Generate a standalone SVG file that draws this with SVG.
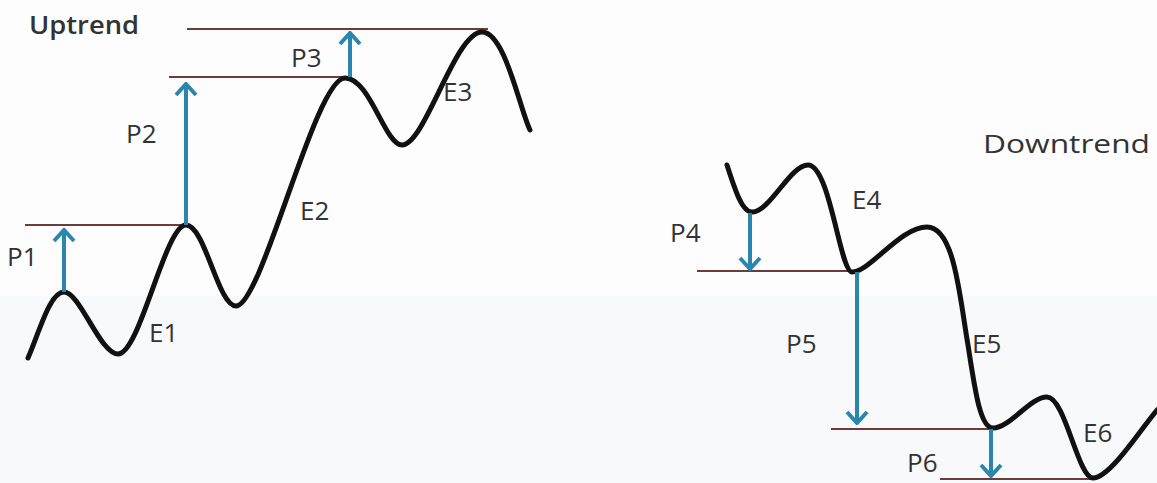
<svg xmlns="http://www.w3.org/2000/svg" width="1157" height="483" viewBox="0 0 1157 483">
<style>
.curve{fill:none;stroke:#111;stroke-width:5;stroke-linecap:round;stroke-linejoin:round}
.level{stroke:#6e3a3a;stroke-width:2}
.arrow{stroke:#2a86ad;stroke-width:4;fill:none}
.lbl{font-family:"Open Sans","Liberation Sans",sans-serif;font-size:26px;fill:#333}
.head{font-family:"Open Sans","Liberation Sans",sans-serif;font-size:26px;fill:#333}
</style>
<defs>
<marker id="chev" markerUnits="userSpaceOnUse" viewBox="-14 -12 16 24" refX="0" refY="0" markerWidth="16" markerHeight="24" orient="auto">
<path d="M-11,-10 L0,0 L-11,10" fill="none" stroke="#2a86ad" stroke-width="4" stroke-linejoin="miter"/>
</marker>
</defs>
<rect x="0" y="0" width="1157" height="483" fill="#fdfdfd"/>
<rect x="0" y="296" width="1157" height="187" fill="#f8f9fa"/>
<g id="levels">
<line class="level" x1="187" y1="29" x2="488" y2="29"/>
<line class="level" x1="169" y1="77" x2="345" y2="77"/>
<line class="level" x1="25" y1="225" x2="186" y2="225"/>
<line class="level" x1="697" y1="271" x2="852" y2="271"/>
<line class="level" x1="831" y1="429" x2="993" y2="429"/>
<line class="level" x1="940" y1="479" x2="1097" y2="479"/>
</g>
<g id="uptrend-curve">
<path class="curve" d="M28,358 C40,330 50,292 64,292 C80,292 100,354 118,354 C140,354 165,225 186,225 C205,225 218,306 236,306 C262,306 315,78 345,78 C370,78 385,145 402,145 C425,145 455,32 482,32 C505,32 520,110 530,130"/>
</g>
<g id="downtrend-curve">
<path class="curve" d="M727,165 C735,190 742,212 752,212 C770,212 790,165 808,165 C830,165 840,272 852,272 C870,272 900,227 927,227 C955,227 960,300 968,345 C975,390 980,428 993,428 C1010,428 1030,397 1047,397 C1065,397 1078,478 1093,478 C1110,478 1140,430 1157,410"/>
</g>
<g id="connectors">
<line class="arrow" x1="64" y1="292" x2="64" y2="230" marker-end="url(#chev)"/>
<line class="arrow" x1="186" y1="225" x2="186" y2="84" marker-end="url(#chev)"/>
<line class="arrow" x1="350" y1="77" x2="350" y2="33" marker-end="url(#chev)"/>
<line class="arrow" x1="750" y1="213" x2="750" y2="269" marker-end="url(#chev)"/>
<line class="arrow" x1="857" y1="272" x2="857" y2="423" marker-end="url(#chev)"/>
<line class="arrow" x1="991" y1="429" x2="991" y2="476" marker-end="url(#chev)"/>
</g>
<g id="labels">
<text class="head" x="29" y="34" font-weight="600" textLength="110" lengthAdjust="spacingAndGlyphs">Uptrend</text>
<text class="head" x="983" y="153" textLength="167" lengthAdjust="spacingAndGlyphs">Downtrend</text>
<text class="lbl" x="7" y="266">P1</text>
<text class="lbl" x="126" y="143">P2</text>
<text class="lbl" x="291" y="67">P3</text>
<text class="lbl" x="149" y="342">E1</text>
<text class="lbl" x="300" y="220">E2</text>
<text class="lbl" x="443" y="101">E3</text>
<text class="lbl" x="670" y="242">P4</text>
<text class="lbl" x="786" y="353">P5</text>
<text class="lbl" x="907" y="472">P6</text>
<text class="lbl" x="852" y="209">E4</text>
<text class="lbl" x="972" y="353">E5</text>
<text class="lbl" x="1083" y="442">E6</text>
</g>
</svg>
